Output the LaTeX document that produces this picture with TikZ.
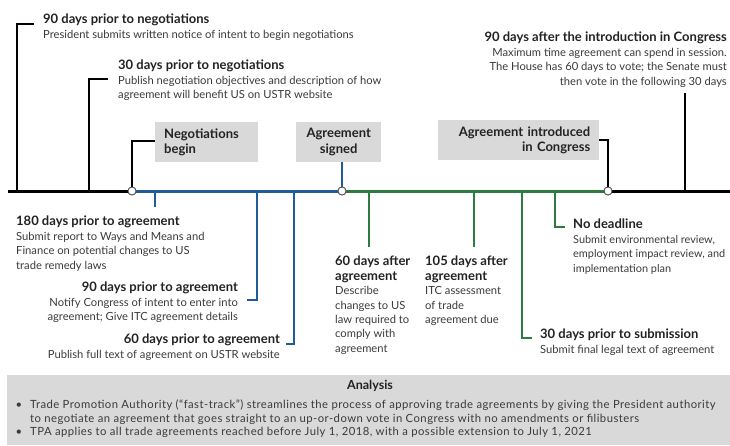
\documentclass[tikz,border=0pt]{standalone}
\usepackage{fontspec}
\setmainfont{Lato}
\definecolor{tblue}{HTML}{1F5C99}
\definecolor{tgreen}{HTML}{2E7A40}
\definecolor{boxgray}{HTML}{D9D9D9}
\definecolor{hd}{HTML}{222222}
\definecolor{bd}{HTML}{3A3A3A}
\newcommand{\hdr}[1]{{\color{hd}\fontsize{13}{14.4}\selectfont\bfseries #1}}
\begin{document}
\begin{tikzpicture}[x=1pt,y=-1pt,
  tl/.style={line width=3pt},
  br/.style={line width=2.4pt},
  dot/.style={circle,draw=black!70,fill=white,line width=0.8pt,minimum size=8pt,inner sep=0pt},
  txt/.style={inner sep=0pt,font=\fontsize{11.2}{14.4}\selectfont,text=bd},
  evbox/.style={fill=boxgray,inner sep=0pt,font=\fontsize{13}{15.5}\selectfont\bfseries,text=hd},
  antxt/.style={inner sep=0pt,text=bd,font=\fontsize{11.3}{14}\selectfont\addfontfeatures{LetterSpace=4}}]
\useasboundingbox (0,0) rectangle (730,445);
% timeline coordinates
\coordinate (L) at (8,191);
\coordinate (R) at (730,191);
\node[dot] (n0) at (132,191) {};
\node[dot] (n1) at (342,191) {};
\node[dot] (n2) at (608,191) {};
\coordinate (a1) at (17,191);
\coordinate (a2) at (89,191);
\coordinate (a3) at (685,191);
\coordinate (b1) at (155,191);
\coordinate (b2) at (257,191);
\coordinate (b3) at (294,191);
\coordinate (g1) at (369,191);
\coordinate (g2) at (474,191);
\coordinate (g3) at (522,191);
\coordinate (g4) at (555,191);
% text nodes
\node[txt,anchor=north west,align=left] (t1) at (43,14)
  {\hdr{90 days prior to negotiations}\\President submits written notice of intent to begin negotiations};
\node[txt,anchor=north west,align=left] (t2) at (118,60)
  {\hdr{30 days prior to negotiations}\\Publish negotiation objectives and description of how\\agreement will benefit US on USTR website};
\node[txt,anchor=north east,align=right] (t3) at (727,32)
  {\hdr{90 days after the introduction in Congress}\\Maximum time agreement can spend in session.\\The House has 60 days to vote; the Senate must\\then vote in the following 30 days};
\node[evbox,anchor=north west,minimum width=103pt,minimum height=40pt,align=left,text width=85pt] (e1) at (155,122)
  {Negotiations\\begin};
\node[evbox,anchor=north west,minimum width=85pt,minimum height=40pt,align=center] (e2) at (296,122)
  {Agreement\\signed};
\node[evbox,anchor=north west,minimum width=161pt,minimum height=40pt,align=right,text width=143pt] (e3) at (438,120)
  {Agreement introduced\\in Congress};
\node[txt,anchor=north west,align=left] (t4) at (16,216)
  {\hdr{180 days prior to agreement}\\Submit report to Ways and Means and\\Finance on potential changes to US\\trade remedy laws};
\node[txt,anchor=north east,align=right] (t5) at (238,282)
  {\hdr{90 days prior to agreement}\\Notify Congress of intent to enter into\\agreement; Give ITC agreement details};
\node[txt,anchor=north east,align=right] (t6) at (280,334)
  {\hdr{60 days prior to agreement}\\Publish full text of agreement on USTR website};
\node[txt,anchor=north west,align=left] (t7) at (335,256)
  {\hdr{60 days after}\\\hdr{agreement}\\Describe\\changes to US\\law required to\\comply with\\agreement};
\node[txt,anchor=north west,align=left] (t8) at (425,256)
  {\hdr{105 days after}\\\hdr{agreement}\\ITC assessment\\of trade\\agreement due};
\node[txt,anchor=north west,align=left] (t9) at (540,329)
  {\hdr{30 days prior to submission}\\Submit final legal text of agreement};
\node[txt,anchor=north west,align=left,font=\fontsize{10.9}{14.4}\selectfont] (t10) at (573,219)
  {\hdr{No deadline}\\Submit environmental review,\\employment impact review, and\\implementation plan};
% bracket corners
\coordinate (c1) at (34,24);
\coordinate (c2) at (108,79);
\coordinate (c3) at (155,141);
\coordinate (c4) at (599,140);
\coordinate (d3) at (685,93);
\coordinate (d1) at (155,207);
\coordinate (c5) at (247,300);
\coordinate (c6) at (286,344);
\coordinate (d2) at (369,247);
\coordinate (d4) at (474,247);
\coordinate (c7) at (532,338);
\coordinate (c8) at (565,227);
% main timeline
\draw[tl,black] (L) -- (n0.west);
\draw[tl,tblue] (n0.east) -- (n1.west);
\draw[tl,tgreen] (n1.east) -- (n2.west);
\draw[tl,black] (n2.east) -- (R);
% brackets above
\draw[br,black] (a1) |- (c1);
\draw[br,black] (a2) |- (c2);
\draw[br,black] (n0.north) |- (c3);
\draw[br,tblue] (n1.north) -- (e2.south -| n1);
\draw[br,black] (n2.north) |- (c4);
\draw[br,black] (a3) -- (d3);
% brackets below
\draw[br,tblue] (b1) -- (d1);
\draw[br,tblue] (b2) |- (c5);
\draw[br,tblue] (b3) |- (c6);
\draw[br,tgreen] (g1) -- (d2);
\draw[br,tgreen] (g2) -- (d4);
\draw[br,tgreen] (g3) |- (c7);
\draw[br,tgreen] (g4) |- (c8);
% redraw dots on top
\node[dot] at (n0) {};
\node[dot] at (n1) {};
\node[dot] at (n2) {};
% analysis box
\fill[boxgray] (7,375) rectangle (730,445);
\node[inner sep=0pt,anchor=center,text=hd,font=\fontsize{12.5}{14}\selectfont\bfseries] (an) at (370,386) {Analysis};
\node[antxt,anchor=north west,align=left] (p1) at (30,399.5)
  {Trade Promotion Authority (“fast-track”) streamlines the process of approving trade agreements by giving the President authority\\to negotiate an agreement that goes straight to an up-or-down vote in Congress with no amendments or filibusters};
\node[antxt,anchor=north] (bu1) at (19,399.5) {\vphantom{(Tl}\textbullet};
\node[antxt,anchor=north west,align=left] (p2) at (30,427)
  {TPA applies to all trade agreements reached before July 1, 2018, with a possible extension to July 1, 2021};
\node[antxt,anchor=north] (bu2) at (19,427) {\vphantom{Tl}\textbullet};
\end{tikzpicture}
\end{document}
